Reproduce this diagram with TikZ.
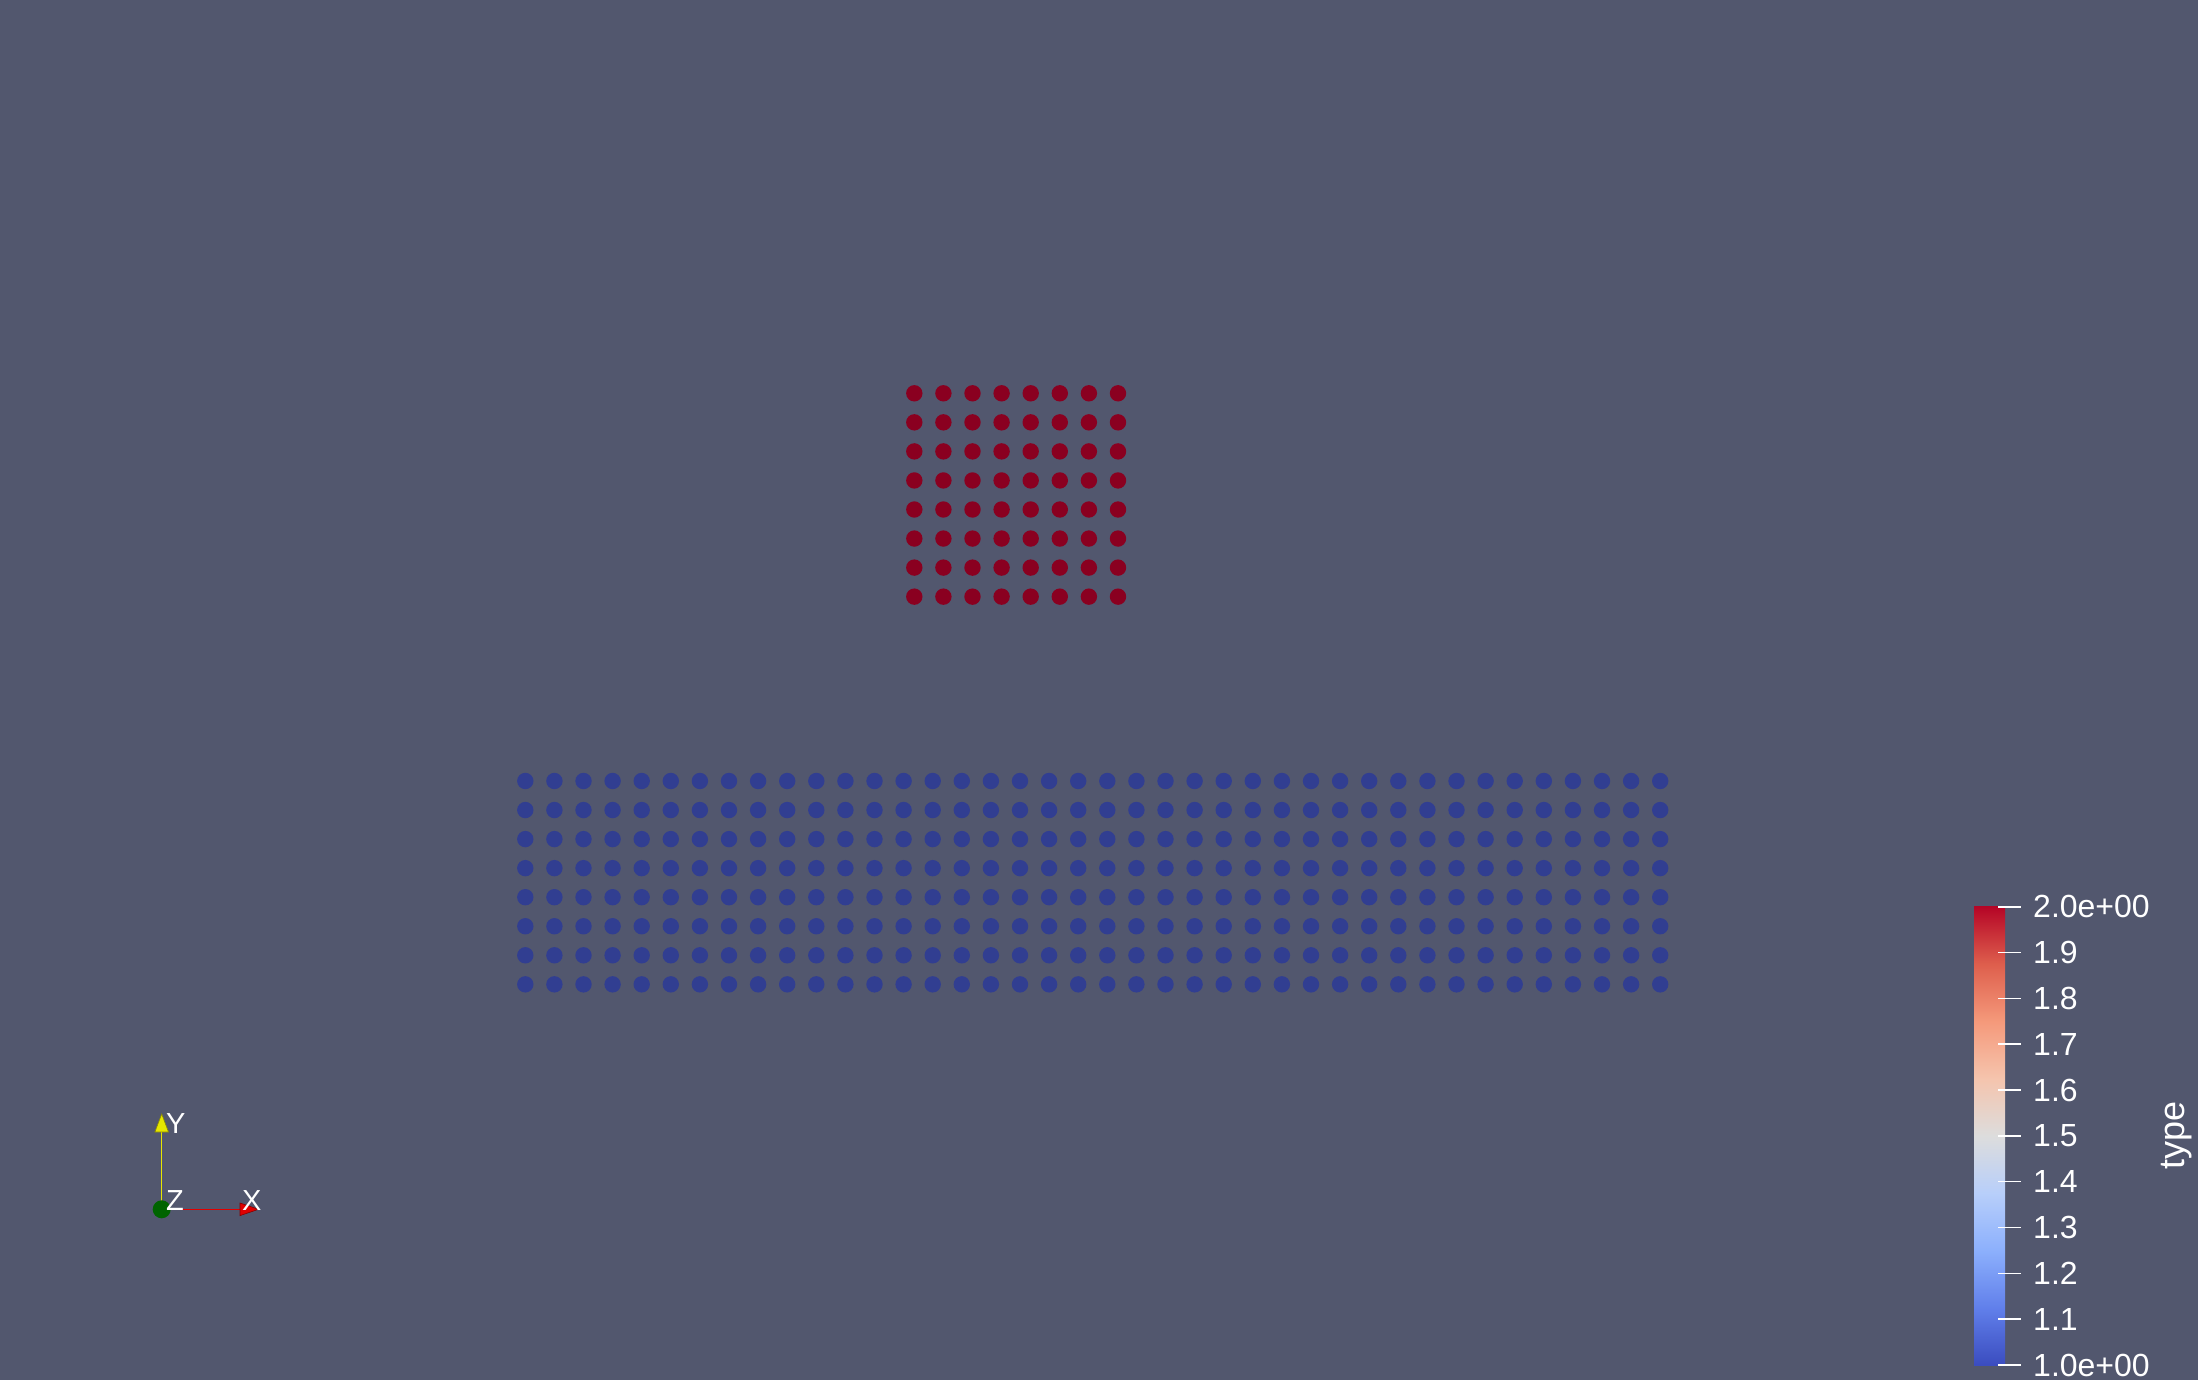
\documentclass[tikz,border=0pt]{standalone}
\usepackage{fontspec}
\setmainfont{Liberation Sans}
\definecolor{bg}{HTML}{52576E}
\definecolor{reddot}{HTML}{8A0020}
\definecolor{bluedot}{HTML}{313E91}
\definecolor{axyel}{HTML}{E6E600}
\definecolor{axred}{HTML}{E00000}
\definecolor{axgreen}{HTML}{006400}
\pgfdeclareverticalshading{coolwarm}{100bp}{rgb(0bp)=(0.23,0.30,0.75); rgb(25bp)=(0.23,0.30,0.75); rgb(31.25bp)=(0.38,0.50,0.92); rgb(37.5bp)=(0.55,0.69,0.99); rgb(43.75bp)=(0.72,0.81,0.98); rgb(50bp)=(0.865,0.865,0.865); rgb(56.25bp)=(0.96,0.77,0.68); rgb(62.5bp)=(0.96,0.60,0.48); rgb(68.75bp)=(0.87,0.37,0.30); rgb(75bp)=(0.71,0.02,0.15); rgb(100bp)=(0.71,0.02,0.15)}
\begin{document}
\begin{tikzpicture}[x=1pt,y=-1pt,
  lbl/.style={text=white,font=\fontsize{32}{32}\selectfont,inner sep=0pt,anchor=base west},
  axlbl/.style={text=white,font=\fontsize{29}{29}\selectfont,inner sep=0pt,anchor=base west},
  tickln/.style={draw=white,line width=1.6pt}]
\useasboundingbox (0,0) rectangle (2198,1380);
\fill[bg] (0,0) rectangle (2198,1380);
% red block
\foreach \i in {0,...,7}{\foreach \j in {0,...,7}{
  \fill[reddot] (914.3+29.1*\i, 393.3+29.05*\j) circle[radius=8.2pt];}}
% blue block
\foreach \i in {0,...,39}{\foreach \j in {0,...,7}{
  \fill[bluedot] (525.3+29.1*\i, 781+29.05*\j) circle[radius=8.2pt];}}
% axes
\coordinate (O) at (161.7,1209.3);
\coordinate (Yt) at (161.7,1131);
\coordinate (Xt) at (240,1209.3);
\draw[axyel,line width=1.2pt] (O) -- (Yt);
\fill[axyel,draw=black!40!axyel,line width=0.6pt] (161.7,1114) -- (168.5,1132) -- (154.9,1132) -- cycle;
\draw[axred,line width=1.2pt] (O) -- (Xt);
\fill[axred,draw=black!40!axred,line width=0.6pt] (258.5,1209.3) -- (240,1203) -- (240,1215.6) -- cycle;
\fill[axgreen] (O) circle[radius=9pt];
\node[axlbl] (ly) at (166,1133) {Y};
\node[axlbl] (lz) at (166,1210) {Z};
\node[axlbl] (lx) at (242,1210) {X};
% colorbar
\fill[shading=coolwarm] (1974,906.7) rectangle (2005,1365);
\foreach \k/\t in {0/2.0e+00,1/1.9,2/1.8,3/1.7,4/1.6,5/1.5,6/1.4,7/1.3,8/1.2,9/1.1,10/1.0e+00}{
  \draw[tickln] (1998.3,906.7+45.83*\k) -- (2020.7,906.7+45.83*\k);
  \node[lbl] at (2033,906.7+45.83*\k+11) {\t};
}
\node[text=white,font=\fontsize{36}{36}\selectfont,inner sep=0pt,rotate=90] (title) at (2176.7,1135) {type};
\end{tikzpicture}
\end{document}
